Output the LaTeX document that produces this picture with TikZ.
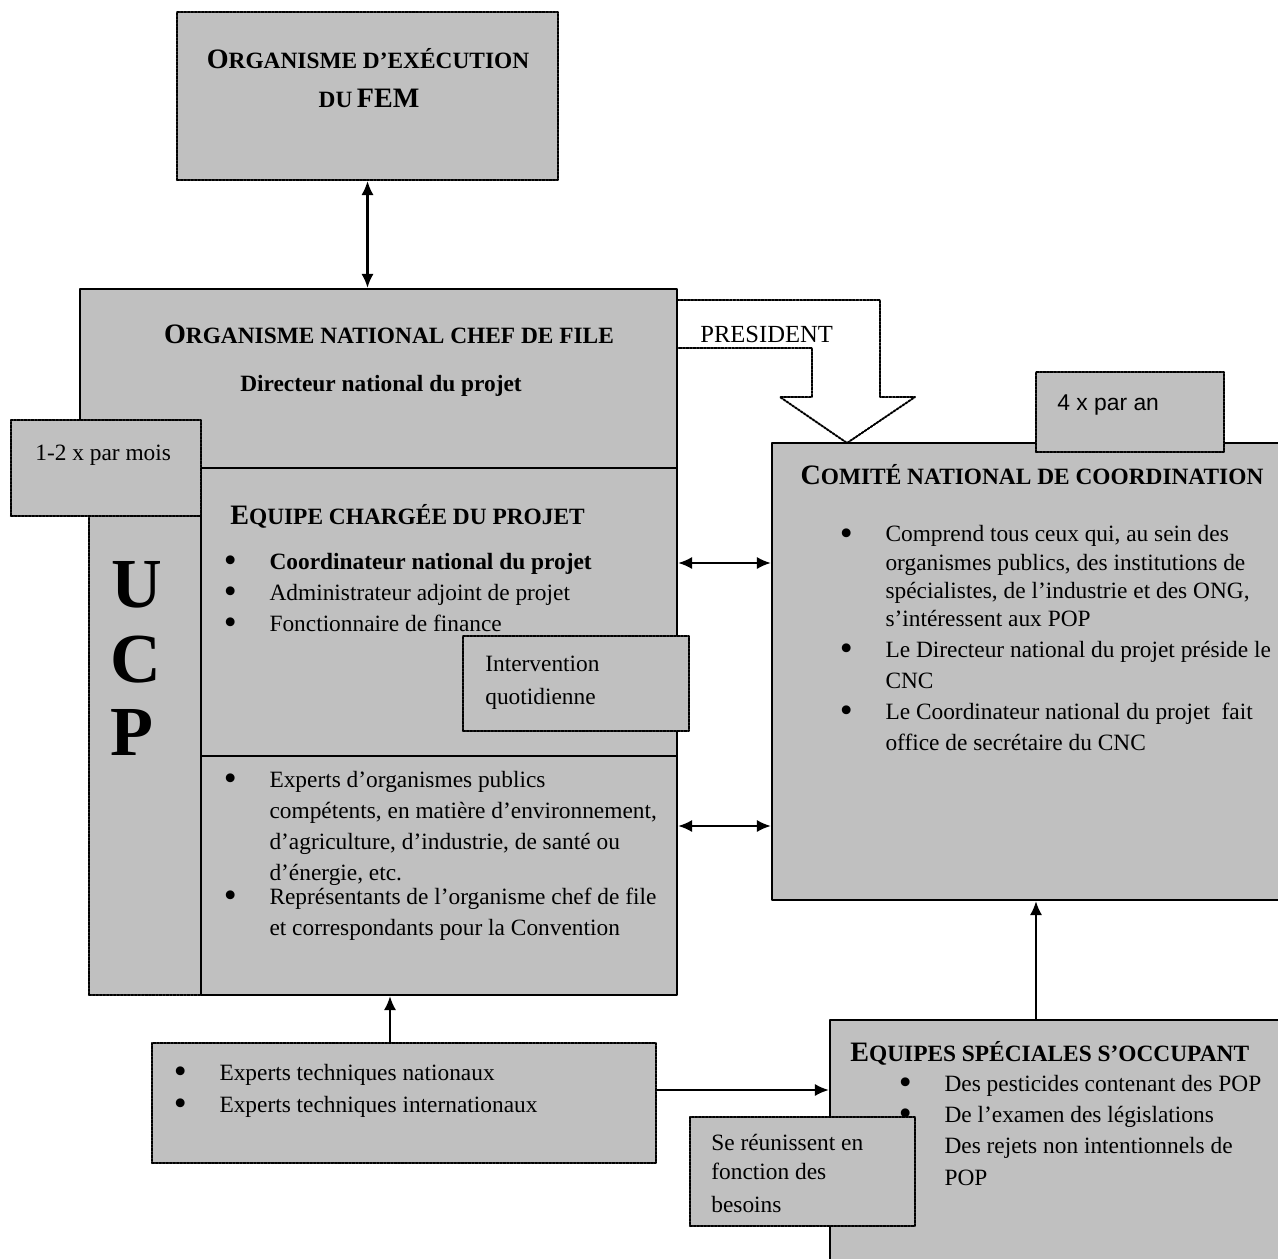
\documentclass[tikz,border=0pt]{standalone}
\usepackage{fontspec}
\setmainfont{Liberation Serif}
\newfontfamily\arialfont{Liberation Sans}
\usetikzlibrary{arrows.meta,fit}

\definecolor{boxgray}{RGB}{192,192,192}
\newcommand{\bul}{\makebox[24pt][l]{\hspace{-2pt}\smash{\raisebox{-1.8pt}{\fontsize{21}{21}\selectfont\textbullet}}}}
\newcommand{\bulgap}{\hspace*{24pt}}
\newcommand{\bigfirst}[2]{{\fontsize{16}{19}\selectfont #1}{\fontsize{13.3}{19}\selectfont #2}}

\begin{document}
\begin{tikzpicture}[x=0.02cm, y=-0.02cm, line cap=round, line join=round,
    solidbox/.style={draw, line width=1.3pt, fill=boxgray, inner sep=0pt},
    dotbox/.style={draw, line width=1.2pt, dash pattern=on 1.3pt off 0.7pt, fill=boxgray, inner sep=0pt},
    txt/.style={anchor=base west, inner sep=0pt, align=left, font=\fontsize{13.3}{17.6}\selectfont},
    ttl/.style={anchor=base, inner sep=0pt, font=\bfseries},
    link/.style={line width=1.2pt, -{Latex[length=8pt,width=7pt]}},
    dlink/.style={line width=1.2pt, {Latex[length=8pt,width=7pt]}-{Latex[length=8pt,width=7pt]}}]

\clip (0,0) rectangle (1278,1258);

% Executing agency
\node[dotbox, fit={(177,12) (558,180)}] (fem) {};
\node[ttl] (femttl) at (368,68) {\bigfirst{O}{RGANISME D’EXÉCUTION}};
\node[ttl] (femsub) at (369,107) {{\fontsize{13.3}{19}\selectfont DU} {\fontsize{16}{19}\selectfont FEM}};

% Lead agency, project team and UCP column
\node[solidbox, fit={(80,289) (677,468)}] (oncf) {};
\node[dotbox, fit={(89,468) (201,995)}] (ucp) {};
\node[solidbox, fit={(201,468) (677,756)}] (team) {};
\node[solidbox, fit={(201,756) (677,995)}] (experts) {};
\node[dotbox, fit={(11,420) (201,516)}] (monthly) {};

\node[ttl] (oncfttl) at (389,343) {\bigfirst{O}{RGANISME NATIONAL CHEF DE FILE}};
\node[ttl, font=\bfseries\fontsize{13.3}{16}\selectfont] (director) at (381,391) {Directeur national du projet};
\node[txt] (monthlytxt) at (35,460) {1-2 x par mois};

\node[anchor=base west, inner sep=0pt, font=\bfseries\fontsize{40}{42}\selectfont] (ucpu) at (111,607) {U};
\node[anchor=base west, inner sep=0pt, font=\bfseries\fontsize{40}{42}\selectfont] (ucpc) at (110,682) {C};
\node[anchor=base west, inner sep=0pt, font=\bfseries\fontsize{40}{42}\selectfont] (ucpp) at (110,755) {P};

\node[anchor=base west, inner sep=0pt, font=\bfseries] (teamttl) at (230,524) {\bigfirst{E}{QUIPE CHARGÉE DU PROJET}};
\node[txt] (teamlist) at (227,631) {%
  \bul\textbf{Coordinateur national du projet}\\
  \bul Administrateur adjoint de projet\\
  \bul Fonctionnaire de finance};

\node[txt] (expertlist) at (227,935) {%
  \bul Experts d’organismes publics\\
  \bulgap compétents, en matière d’environnement,\\
  \bulgap d’agriculture, d’industrie, de santé ou\\
  \bulgap d’énergie, etc.\\[-4pt]
  \bul Représentants de l’organisme chef de file\\
  \bulgap et correspondants pour la Convention};

\node[dotbox, fit={(463,636) (689,731)}] (daily) {};
\node[txt, font=\fontsize{13.3}{18.6}\selectfont] (dailytxt) at (485,704) {Intervention\\quotidienne};

% National coordinating committee
\node[solidbox, fit={(772,443) (1300,900)}] (cnc) {};
\node[dotbox, fit={(1036,372) (1224,452)}] (yearly) {};
\node[txt, font=\arialfont\fontsize{13}{16}\selectfont] (yearlytxt) at (1057,410) {4 x par an};
\node[ttl] (cncttl) at (1032,484) {\bigfirst{C}{OMITÉ NATIONAL DE COORDINATION}};
\node[txt, font=\fontsize{13.3}{16}\selectfont] (cnclist) at (843,750) {%
  \bul Comprend tous ceux qui, au sein des\\
  \bulgap organismes publics, des institutions de\\
  \bulgap spécialistes, de l’industrie et des ONG,\\
  \bulgap s’intéressent aux POP\\[1.6pt]
  \bul Le Directeur national du projet préside le\\[1.6pt]
  \bulgap CNC\\[1.6pt]
  \bul Le Coordinateur national du projet\ \ fait\\[1.6pt]
  \bulgap office de secrétaire du CNC};

% PRESIDENT arrow
\draw[line width=1.1pt, dash pattern=on 1.3pt off 0.7pt]
    (677,300) -- (880,300) -- (880,397) -- (915,397) -- (847,443)
    -- (780,397) -- (812,397) -- (812,348) -- (677,348);
\node[txt, font=\fontsize{14}{16}\selectfont] (president) at (700,342) {PRESIDENT};

% Technical experts and task forces
\node[dotbox, fit={(152,1043) (656,1163)}] (tech) {};
\node[txt, font=\fontsize{13.3}{18}\selectfont] (techlist) at (177,1112) {%
  \bul Experts techniques nationaux\\
  \bul Experts techniques internationaux};

\node[solidbox, fit={(830,1020) (1300,1280)}] (task) {};
\node[anchor=base west, inner sep=0pt, font=\bfseries] (taskttl) at (850,1061) {\bigfirst{E}{QUIPES SPÉCIALES S’OCCUPANT}};
\node[txt, font=\fontsize{13.3}{16}\selectfont] (tasklist) at (902,1185) {%
  \bul Des pesticides contenant des POP\\[1.6pt]
  \bul De l’examen des législations\\[1.8pt]
  \bul Des rejets non intentionnels de\\[2pt]
  \bulgap POP};

\node[dotbox, fit={(690,1117) (915,1226)}] (needs) {};
\node[txt, font=\fontsize{13.3}{16}\selectfont] (needstxt) at (711,1212) {Se réunissent en\\[0.2pt]fonction des\\[2.6pt]besoins};

% Connectors
\coordinate (row1) at (0,563);
\coordinate (row2) at (0,826);
\coordinate (row3) at (0,1090);
\coordinate (techx) at (390,0);
\coordinate (taskx) at (1036,0);
\draw[dlink] (fem.south) -- (fem.south |- oncf.north);
\draw[dlink] (team.east |- row1) -- (cnc.west |- row1);
\draw[dlink] (experts.east |- row2) -- (cnc.west |- row2);
\draw[link] (tech.north -| techx) -- (experts.south -| techx);
\draw[link] (tech.east |- row3) -- (task.west |- row3);
\draw[link] (task.north -| taskx) -- (cnc.south -| taskx);

\end{tikzpicture}
\end{document}
